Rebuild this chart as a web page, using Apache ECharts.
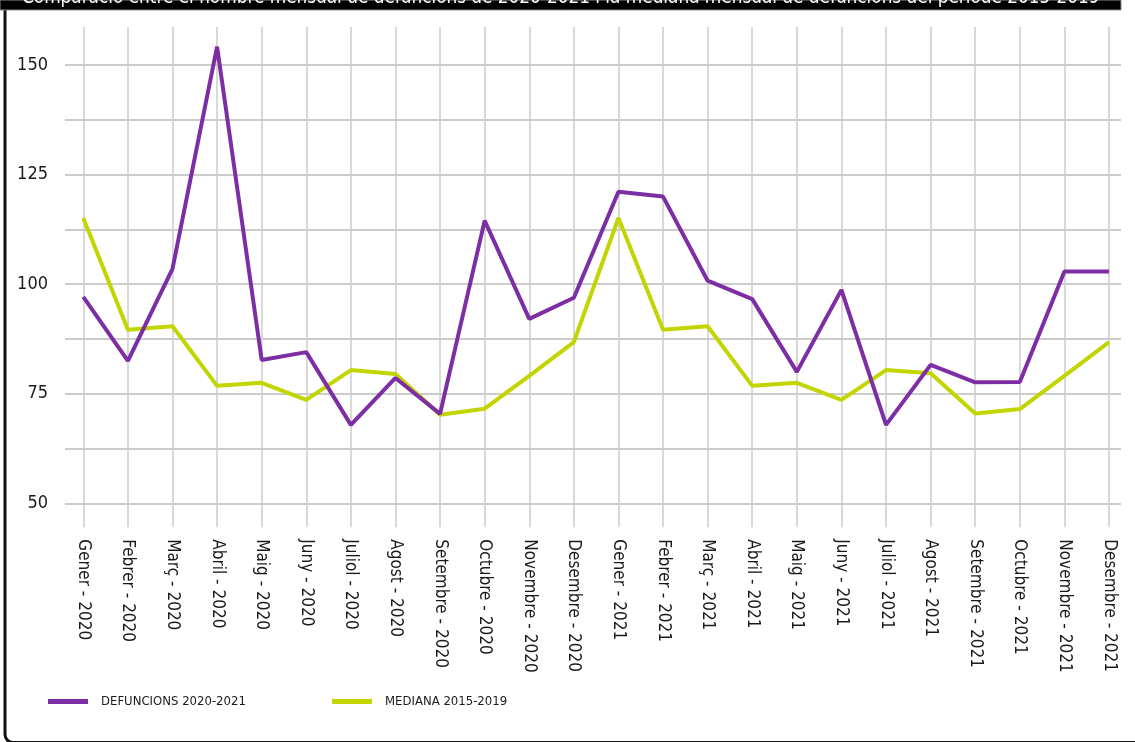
<!DOCTYPE html>
<html>
<head>
<meta charset="utf-8">
<script src="https://cdn.jsdelivr.net/npm/echarts@6/dist/echarts.min.js"></script>
<style>
  html, body { margin: 0; padding: 0; background: #fff; }
  #chart { width: 1135px; height: 742px; }
</style>
</head>
<body>
<div id="chart"></div>
<script>
var months = ['Gener - 2020', 'Febrer - 2020', 'Març - 2020', 'Abril - 2020', 'Maig - 2020', 'Juny - 2020',
	'Juliol - 2020', 'Agost - 2020', 'Setembre - 2020', 'Octubre - 2020', 'Novembre - 2020', 'Desembre - 2020',
	'Gener - 2021', 'Febrer - 2021', 'Març - 2021', 'Abril - 2021', 'Maig - 2021', 'Juny - 2021',
	'Juliol - 2021', 'Agost - 2021', 'Setembre - 2021', 'Octubre - 2021', 'Novembre - 2021', 'Desembre - 2021'];

var defuncions = [97.1, 82.5, 103.5, 154.2, 82.7, 84.5, 67.9, 78.6, 70.4, 114.5, 92.1, 96.9,
	121.1, 120.0, 100.8, 96.6, 80.0, 98.7, 67.9, 81.6, 77.6, 77.7, 102.9, 102.9];

var mediana = [115.1, 89.6, 90.4, 76.8, 77.5, 73.6, 80.4, 79.5, 70.2, 71.6, 79.1, 86.8,
	115.1, 89.6, 90.4, 76.8, 77.5, 73.6, 80.4, 79.7, 70.5, 71.5, 79.1, 86.8];

var yTicks = [50, 75, 100, 125, 150];

var titleText = 'Comparació entre el nombre mensual de defuncions de 2020-2021 i la mediana mensual de defuncions del període 2015-2019';

var font = "'Liberation Sans Narrow', 'DejaVu Sans Condensed', 'Roboto', sans-serif";
var purple = '#7d2ea4';
var green = '#c3d500';
var gridColor = '#cccccc';
var textColor = '#1a1a1a';

var chart = echarts.init(document.getElementById('chart'));

var yMin = 50, yMax = 158.7;

chart.setOption({
	animation: false,
	textStyle: {fontFamily: font},
	grid: [
		// points grid (categories span)
		{left: 83.3, right: 26, top: 27, bottom: 238.7},
		// wider grid for the horizontal lines and y labels
		{left: 65, right: 14, top: 27, bottom: 238.7}
	],
	xAxis: [
		{
			type: 'category',
			gridIndex: 0,
			boundaryGap: false,
			data: months,
			axisLine: {show: false},
			axisTick: {show: true, length: 24, lineStyle: {color: gridColor, width: 1.5}},
			splitLine: {show: true, lineStyle: {color: gridColor, width: 1.5}},
			axisLabel: {
				rotate: -90,
				margin: 36,
				interval: 0,
				color: textColor,
				fontSize: 17,
				fontFamily: font
			},
			z: 1
		},
		{type: 'value', gridIndex: 1, show: false}
	],
	yAxis: [
		{type: 'value', gridIndex: 0, min: yMin, max: yMax, show: false, splitLine: {show: false}},
		{
			type: 'value',
			gridIndex: 1,
			min: yMin,
			max: yMax,
			interval: 12.5,
			axisLine: {show: false},
			axisTick: {show: false},
			splitLine: {show: true, showMaxLine: false, lineStyle: {color: gridColor, width: 2}},
			axisLabel: {
				margin: 17,
				color: textColor,
				fontSize: 18,
				fontFamily: font,
				formatter: function (v) {
					return yTicks.indexOf(v) >= 0 ? String(v) : '';
				}
			}
		}
	],
	legend: [
		{
			left: 48, top: 695, padding: 0,
			data: ['DEFUNCIONS 2020-2021'],
			icon: 'rect', itemWidth: 40, itemHeight: 5,
			textStyle: {fontSize: 13, color: textColor, fontFamily: font, padding: [0, 0, 0, 8]}
		},
		{
			left: 332, top: 695, padding: 0,
			data: ['MEDIANA 2015-2019'],
			icon: 'rect', itemWidth: 40, itemHeight: 5,
			textStyle: {fontSize: 13, color: textColor, fontFamily: font, padding: [0, 0, 0, 8]}
		}
	],
	series: [
		{
			name: 'MEDIANA 2015-2019',
			type: 'line',
			xAxisIndex: 0, yAxisIndex: 0,
			data: mediana,
			symbol: 'none',
			lineStyle: {color: green, width: 4},
			itemStyle: {color: green},
			z: 3
		},
		{
			name: 'DEFUNCIONS 2020-2021',
			type: 'line',
			xAxisIndex: 0, yAxisIndex: 0,
			data: defuncions,
			symbol: 'none',
			lineStyle: {color: purple, width: 4},
			itemStyle: {color: purple},
			z: 4
		}
	],
	graphic: [
		{
			type: 'rect', z: 100,
			shape: {x: 5, y: -20, width: 1400, height: 762.5, r: 8},
			style: {fill: 'none', stroke: '#111', lineWidth: 3}
		},
		{
			type: 'rect', z: 101,
			shape: {x: 0, y: 0, width: 1121, height: 10},
			style: {fill: '#000', stroke: '#888', lineWidth: 1}
		},
		{
			type: 'text', z: 102,
			x: 22, y: 8,
			style: {
				text: titleText,
				fill: '#fff',
				font: '18.8px ' + font,
				textVerticalAlign: 'bottom'
			}
		}
	]
});
</script>
</body>
</html>
